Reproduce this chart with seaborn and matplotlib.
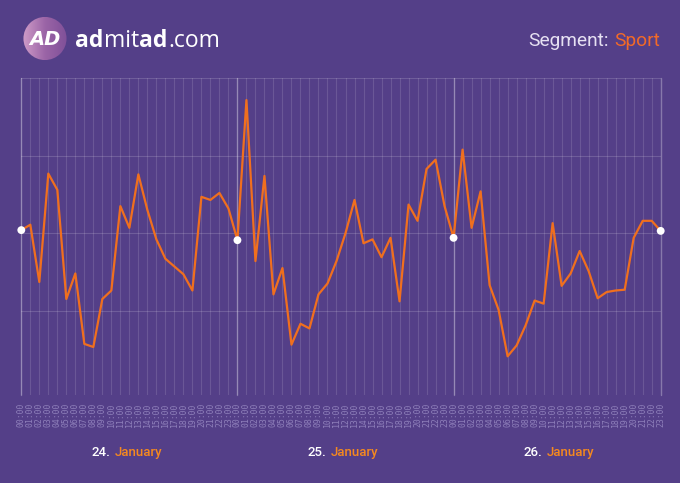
import numpy as np
import pandas as pd
import matplotlib
matplotlib.use("Agg")
import matplotlib.pyplot as plt
import seaborn as sns
from matplotlib.patches import Circle
from matplotlib.colors import LinearSegmentedColormap
from matplotlib.transforms import blended_transform_factory

# ---------------- data ----------------
hour_labels = ["00:00", "01:00", "02:00", "03:00", "04:00", "05:00", "06:00", "07:00",
               "08:00", "09:00", "10:00", "11:00", "12:00", "13:00", "14:00", "15:00",
               "16:00", "17:00", "18:00", "19:00", "20:00", "21:00", "22:00", "23:00"]
day_labels = ["24.", "25.", "26."]
month_label = "January"
segment_name = "Sport"

values = [204, 211, 137, 277, 256, 115, 148, 57, 53, 115, 126, 235,
          207, 276, 230, 192, 167, 157, 147, 126, 247, 243, 252, 232,
          191, 372, 164, 274, 121, 155, 56, 83, 77, 121, 135, 164,
          200, 243, 187, 192, 169, 194, 112, 237, 216, 283, 295, 235,
          194, 308, 207, 254, 133, 101, 41, 55, 81, 113, 109, 213,
          132, 148, 177, 151, 116, 124, 126, 127, 194, 216, 216, 203]

# ---------------- style ----------------
BG = "#543f88"
LINE = "#f06f1e"
ORANGE_TXT = "#f26a28"
JAN_TXT = "#f5891f"
TICK_TXT = "#8e7fba"
W, H = 680, 483

sns.set_theme(style="white", rc={"axes.facecolor": BG, "figure.facecolor": BG,
                                 "savefig.facecolor": BG})
plt.rcParams['font.family'] = ['Roboto', 'DejaVu Sans']

fig = plt.figure(figsize=(W / 100, H / 100), dpi=100)
ax = fig.add_axes([21.3 / W, (H - 395) / H, (660.7 - 21.3) / W, (395 - 78) / H])

n = len(values)
labels = hour_labels * 3
df = pd.DataFrame({"idx": np.arange(n), "value": values})

# grid
ax.set_xticks(np.arange(n))
ax.set_xticklabels(labels[:n], rotation=90, fontsize=5.9, color=TICK_TXT,
                   family=['DejaVu Sans Mono'])
ax.tick_params(axis='x', length=0, pad=5.5)
ax.set_yticks([100, 200, 300, 400])
ax.set_yticklabels([])
ax.tick_params(axis='y', length=0)
ax.grid(True, axis='x', color="white", alpha=0.13, lw=0.8, zorder=1)
ax.grid(True, axis='y', color="white", alpha=0.16, lw=0.8, zorder=1)
for s in ax.spines.values():
    s.set_visible(False)

day_idx = [0, 24, 48, n - 1]
for d in day_idx:
    ax.axvline(d, color="white", alpha=0.3, lw=1.0, zorder=1.5, clip_on=False)

sns.lineplot(data=df, x="idx", y="value", ax=ax, color=LINE, lw=1.6, zorder=3)
ax.scatter(day_idx, [values[i] for i in day_idx], s=32, color="white",
           edgecolor='none', zorder=4, clip_on=False)

ax.set_xlim(0, n - 1)
ax.set_ylim(-9, 400.5)
ax.set_xlabel("")
ax.set_ylabel("")

# day labels
tr = blended_transform_factory(ax.transData, fig.transFigure)
ybase = 1 - 456 / H
for k, dl in enumerate(day_labels):
    center = 24 * k + 11.5
    ax.text(center - 1.6, ybase, dl, transform=tr, ha='right', va='baseline',
            color="white", fontsize=9.5, fontweight='medium')
    ax.text(center - 1.1, ybase, month_label, transform=tr, ha='left', va='baseline',
            color=JAN_TXT, fontsize=9.5, fontweight='medium')

renderer = fig.canvas.get_renderer()

# Segment label (top right)
t_sport = fig.text(660 / W, 1 - 46 / H, segment_name, ha='right', va='baseline',
                   color=ORANGE_TXT, fontsize=13.8)
bb = t_sport.get_window_extent(renderer)
fig.text((bb.x0 - 5) / W, 1 - 46 / H, "Segment:", ha='right', va='baseline',
         color="#e6e1f2", fontsize=13.8)

# admitad logo text
x = 75
for txt, wgt in [("ad", 'bold'), ("mit", 'normal'), ("ad", 'bold'), (".com", 'normal')]:
    t = fig.text(x / W, 1 - 47 / H, txt, ha='left', va='baseline', color="white",
                 fontsize=16.5, fontweight=wgt, family=['Open Sans', 'DejaVu Sans'])
    x += t.get_window_extent(renderer).width + 0.5

# logo circle
lax = fig.add_axes([(45 - 22) / W, (H - 38.5 - 22) / H, 44 / W, 44 / H])
lax.set_xlim(0, 1)
lax.set_ylim(0, 1)
lax.axis('off')
grad = np.linspace(0, 1, 256).reshape(1, -1)
cmap = LinearSegmentedColormap.from_list("lg", ["#cf9cc8", "#9a64a6", "#7e4f98"])
im = lax.imshow(grad, extent=[0, 1, 0, 1], cmap=cmap, aspect='auto')
circ = Circle((0.5, 0.5), 0.49, transform=lax.transData)
im.set_clip_path(circ)
lax.text(0.5, 0.47, "AD", ha='center', va='center', color='white', fontsize=14,
         fontweight='bold', fontstyle='italic', family=['DejaVu Sans'])

fig.savefig("out.png", dpi=100, facecolor=BG)
